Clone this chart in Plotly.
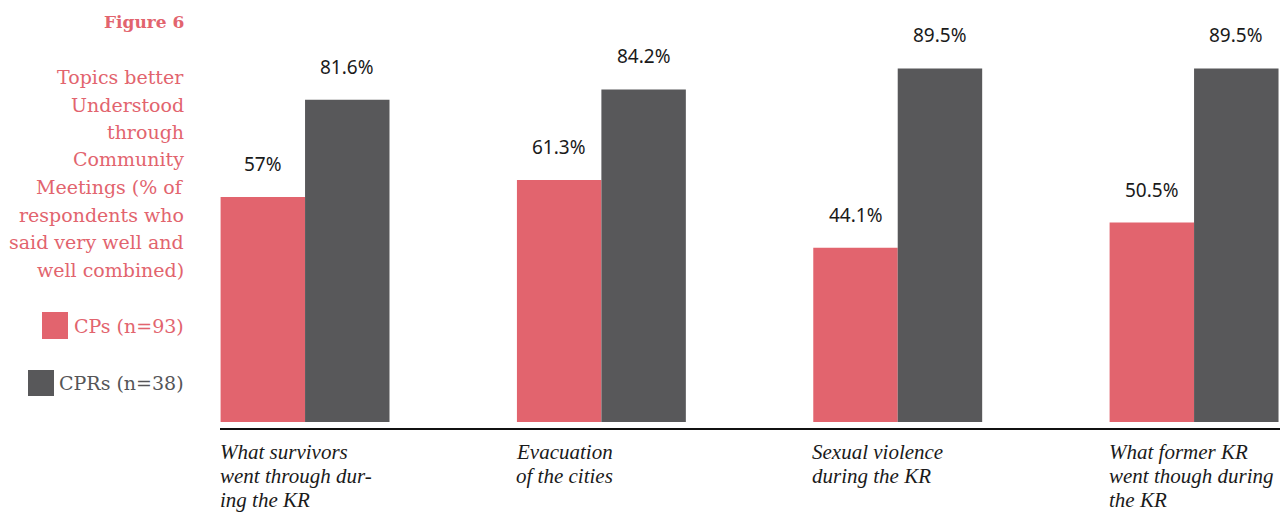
import plotly.graph_objects as go

categories = ["What survivors<br>went through dur-<br>ing the KR",
              "Evacuation<br>of the cities",
              "Sexual violence<br>during the KR",
              "What former KR<br>went though during<br>the KR"]
cps = [57.0, 61.3, 44.1, 50.5]
cprs = [81.6, 84.2, 89.5, 89.5]
cps_labels = ["57%", "61.3%", "44.1%", "50.5%"]
cprs_labels = ["81.6%", "84.2%", "89.5%", "89.5%"]
title_lines = ["Topics better", "Understood", "through", "Community", "Meetings (% of",
               "respondents who", "said very well and", "well combined)"]

PINK = "#e2646e"
DARK = "#58585a"
xs = list(range(len(categories)))

fig = go.Figure()
fig.add_trace(go.Bar(x=xs, y=cps, marker=dict(color=PINK, line=dict(width=0)),
                     name="CPs (n=93)", showlegend=False))
fig.add_trace(go.Bar(x=xs, y=cprs, marker=dict(color=DARK, line=dict(width=0)),
                     name="CPRs (n=38)", showlegend=False))

W = 0.285
for i in xs:
    fig.add_annotation(x=i - W / 2, y=cps[i], text=cps_labels[i], showarrow=False,
                       xref="x", yref="y", yanchor="bottom", yshift=18,
                       font=dict(family="Noto Sans", size=19, color="#1a1a1a"))
    fig.add_annotation(x=i + W / 2, y=cprs[i], text=cprs_labels[i], showarrow=False,
                       xref="x", yref="y", yanchor="bottom", yshift=18,
                       font=dict(family="Noto Sans", size=19, color="#1a1a1a"))
    for k, line in enumerate(categories[i].split("<br>")):
        fig.add_annotation(x=i - W, y=0, text="<i>" + line + "</i>", showarrow=False,
                           xref="x", yref="y", xanchor="left", yanchor="middle",
                           yshift=-(30 + 24 * k), xshift=-3, align="left",
                           font=dict(family="Liberation Serif", size=21, color="#1a1a1a"))

serif = "DejaVu Serif"

fig.update_layout(
    width=1280, height=507,
    margin=dict(l=212, r=0, t=2, b=87),
    paper_bgcolor="white", plot_bgcolor="white",
    barmode="group", bargap=0.43, bargroupgap=0,
    xaxis=dict(range=[-0.287, 3.317], showticklabels=False, showgrid=False, zeroline=False,
               showline=True, linecolor="#111", linewidth=1.5, ticks=""),
    yaxis=dict(range=[-1.5, 104.3], visible=False),
)

# left-side text (paper coords from screen pixel positions)
def px(xp):
    return (xp - 220) / 1068

def py(yp):
    return (428 - yp) / 418

RX = px(186)
fig.add_annotation(x=RX, y=py(22), xref="paper", yref="paper", text="<b>Figure 6</b>",
                   showarrow=False, xanchor="right", yanchor="middle",
                   font=dict(family=serif, size=17, color=PINK))
for k, line in enumerate(title_lines):
    fig.add_annotation(x=RX, y=py(77 + 27.5 * k), xref="paper", yref="paper", text=line,
                       showarrow=False, xanchor="right", yanchor="middle",
                       font=dict(family=serif, size=19, color=PINK))
fig.add_annotation(x=RX, y=py(326), xref="paper", yref="paper", text="CPs (n=93)",
                   showarrow=False, xanchor="right", yanchor="middle",
                   font=dict(family=serif, size=19, color=PINK))
fig.add_annotation(x=RX, y=py(383), xref="paper", yref="paper", text="CPRs (n=38)",
                   showarrow=False, xanchor="right", yanchor="middle",
                   font=dict(family=serif, size=19, color="#555557"))
fig.add_shape(type="rect", xref="paper", yref="paper", x0=px(42), x1=px(68),
              y0=py(339), y1=py(312), fillcolor=PINK, line=dict(width=0))
fig.add_shape(type="rect", xref="paper", yref="paper", x0=px(28), x1=px(54),
              y0=py(396), y1=py(370), fillcolor=DARK, line=dict(width=0))

fig.write_html("out.html")
